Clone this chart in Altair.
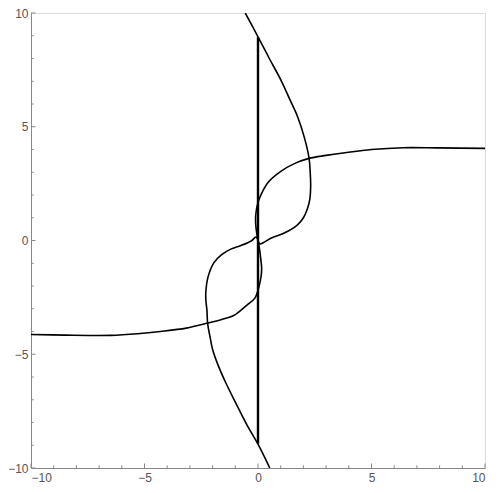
import altair as alt
import pandas as pd

# Curve A: horizontal S-shaped contour (left to right)
a_x = [-10, -8.5, -6.5, -5.3, -4.3, -3.16, -2.22, -1.6, -1.07, -0.5, -0.13, 0.05, 0.14, 0.16, 0.12, 0.07,
       0.0, -0.06, -0.1, -0.1, -0.02, 0.09, 0.45, 1.02, 1.6, 2.25, 3.0, 3.91, 5.0, 6.4, 8.0, 10]
a_y = [-4.13, -4.16, -4.17, -4.1, -4.0, -3.85, -3.63, -3.47, -3.3, -2.85, -2.52, -2.0, -1.55, -1.2, -0.8, -0.4,
       0.0, 0.35, 0.7, 1.12, 1.6, 1.92, 2.56, 3.05, 3.38, 3.61, 3.74, 3.87, 4.0, 4.08, 4.07, 4.05]

# Curve B: sideways parabola-like contour (top to bottom)
b_x = [-0.56, 0.0, 0.5, 1.02, 1.4, 1.74, 2.05, 2.25, 2.3, 2.32, 2.28, 2.18, 2.0, 1.74, 1.16, 0.59, 0.23, 0.08,
       -0.08, -0.3, -0.75, -1.2, -1.6, -1.94, -2.2, -2.3, -2.29, -2.25, -2.22, -2.1, -2.0, -1.75, -1.43, -1.0,
       -0.49, 0.0, 0.52]
b_y = [10.0, 8.95, 8.0, 7.03, 6.2, 5.45, 4.5, 3.61, 3.0, 2.4, 1.8, 1.41, 1.0, 0.69, 0.33, 0.11, -0.1, -0.15,
       0.15, -0.02, -0.22, -0.38, -0.62, -0.97, -1.6, -2.3, -2.7, -3.06, -3.63, -4.3, -4.79, -5.5, -6.23, -7.1,
       -8.1, -8.95, -10.0]

# Vertical segment at x = 0
v_x = [0, 0]
v_y = [-8.93, 8.93]

major_ticks = [-10, -5, 0, 5, 10]
minor_ticks = [-9, -8, -7, -6, -4, -3, -2, -1, 1, 2, 3, 4, 6, 7, 8, 9]

W, H = 454, 455

curves = pd.DataFrame({
    "x": a_x + b_x,
    "y": a_y + b_y,
    "path": ["A"] * len(a_x) + ["B"] * len(b_x),
    "order": list(range(len(a_x))) + list(range(len(b_x))),
})
vline = pd.DataFrame({"x": v_x, "y": v_y, "order": [0, 1]})
maj = pd.DataFrame({"v": major_ticks})
mnr = pd.DataFrame({"v": minor_ticks})

xs = alt.Scale(domain=[-10, 10], nice=False, zero=False)
ys = alt.Scale(domain=[-10, 10], nice=False, zero=False)

axis_common = dict(values=major_ticks, ticks=False, grid=False, domainColor="#888888",
                   domainWidth=1, labelColor="#555555", labelFontSize=12,
                   labelFont="Liberation Sans", title=None, format="d")

lines = alt.Chart(curves).mark_line(color="black", strokeWidth=1.6, clip=True,
                                    interpolate="catmull-rom").encode(
    x=alt.X("x:Q", scale=xs, axis=alt.Axis(labelPadding=4, **axis_common)),
    y=alt.Y("y:Q", scale=ys, axis=alt.Axis(labelPadding=3, **axis_common)),
    detail="path:N",
    order="order:Q",
)

vl = alt.Chart(vline).mark_line(color="black", strokeWidth=2.4).encode(
    x=alt.X("x:Q", scale=xs), y=alt.Y("y:Q", scale=ys), order="order:Q"
)

tick_col = "#888888"
xmaj = alt.Chart(maj).mark_rule(color=tick_col).encode(
    x=alt.X("v:Q", scale=xs), y=alt.value(H), y2=alt.value(H - 4.5))
xmin = alt.Chart(mnr).mark_rule(color=tick_col).encode(
    x=alt.X("v:Q", scale=xs), y=alt.value(H), y2=alt.value(H - 2.7))
ymaj = alt.Chart(maj).mark_rule(color=tick_col).encode(
    y=alt.Y("v:Q", scale=ys), x=alt.value(0), x2=alt.value(4.5))
ymin = alt.Chart(mnr).mark_rule(color=tick_col).encode(
    y=alt.Y("v:Q", scale=ys), x=alt.value(0), x2=alt.value(2.7))

chart = alt.layer(xmaj, xmin, ymaj, ymin, vl, lines).properties(
    width=W, height=H,
    autosize=alt.AutoSizeParams(type="none"),
    padding={"left": 23, "top": 5, "right": 7, "bottom": 17},
).configure_view(stroke=None).configure(background="white")

chart.save("out.html", embed_options={"renderer": "svg", "actions": False})
